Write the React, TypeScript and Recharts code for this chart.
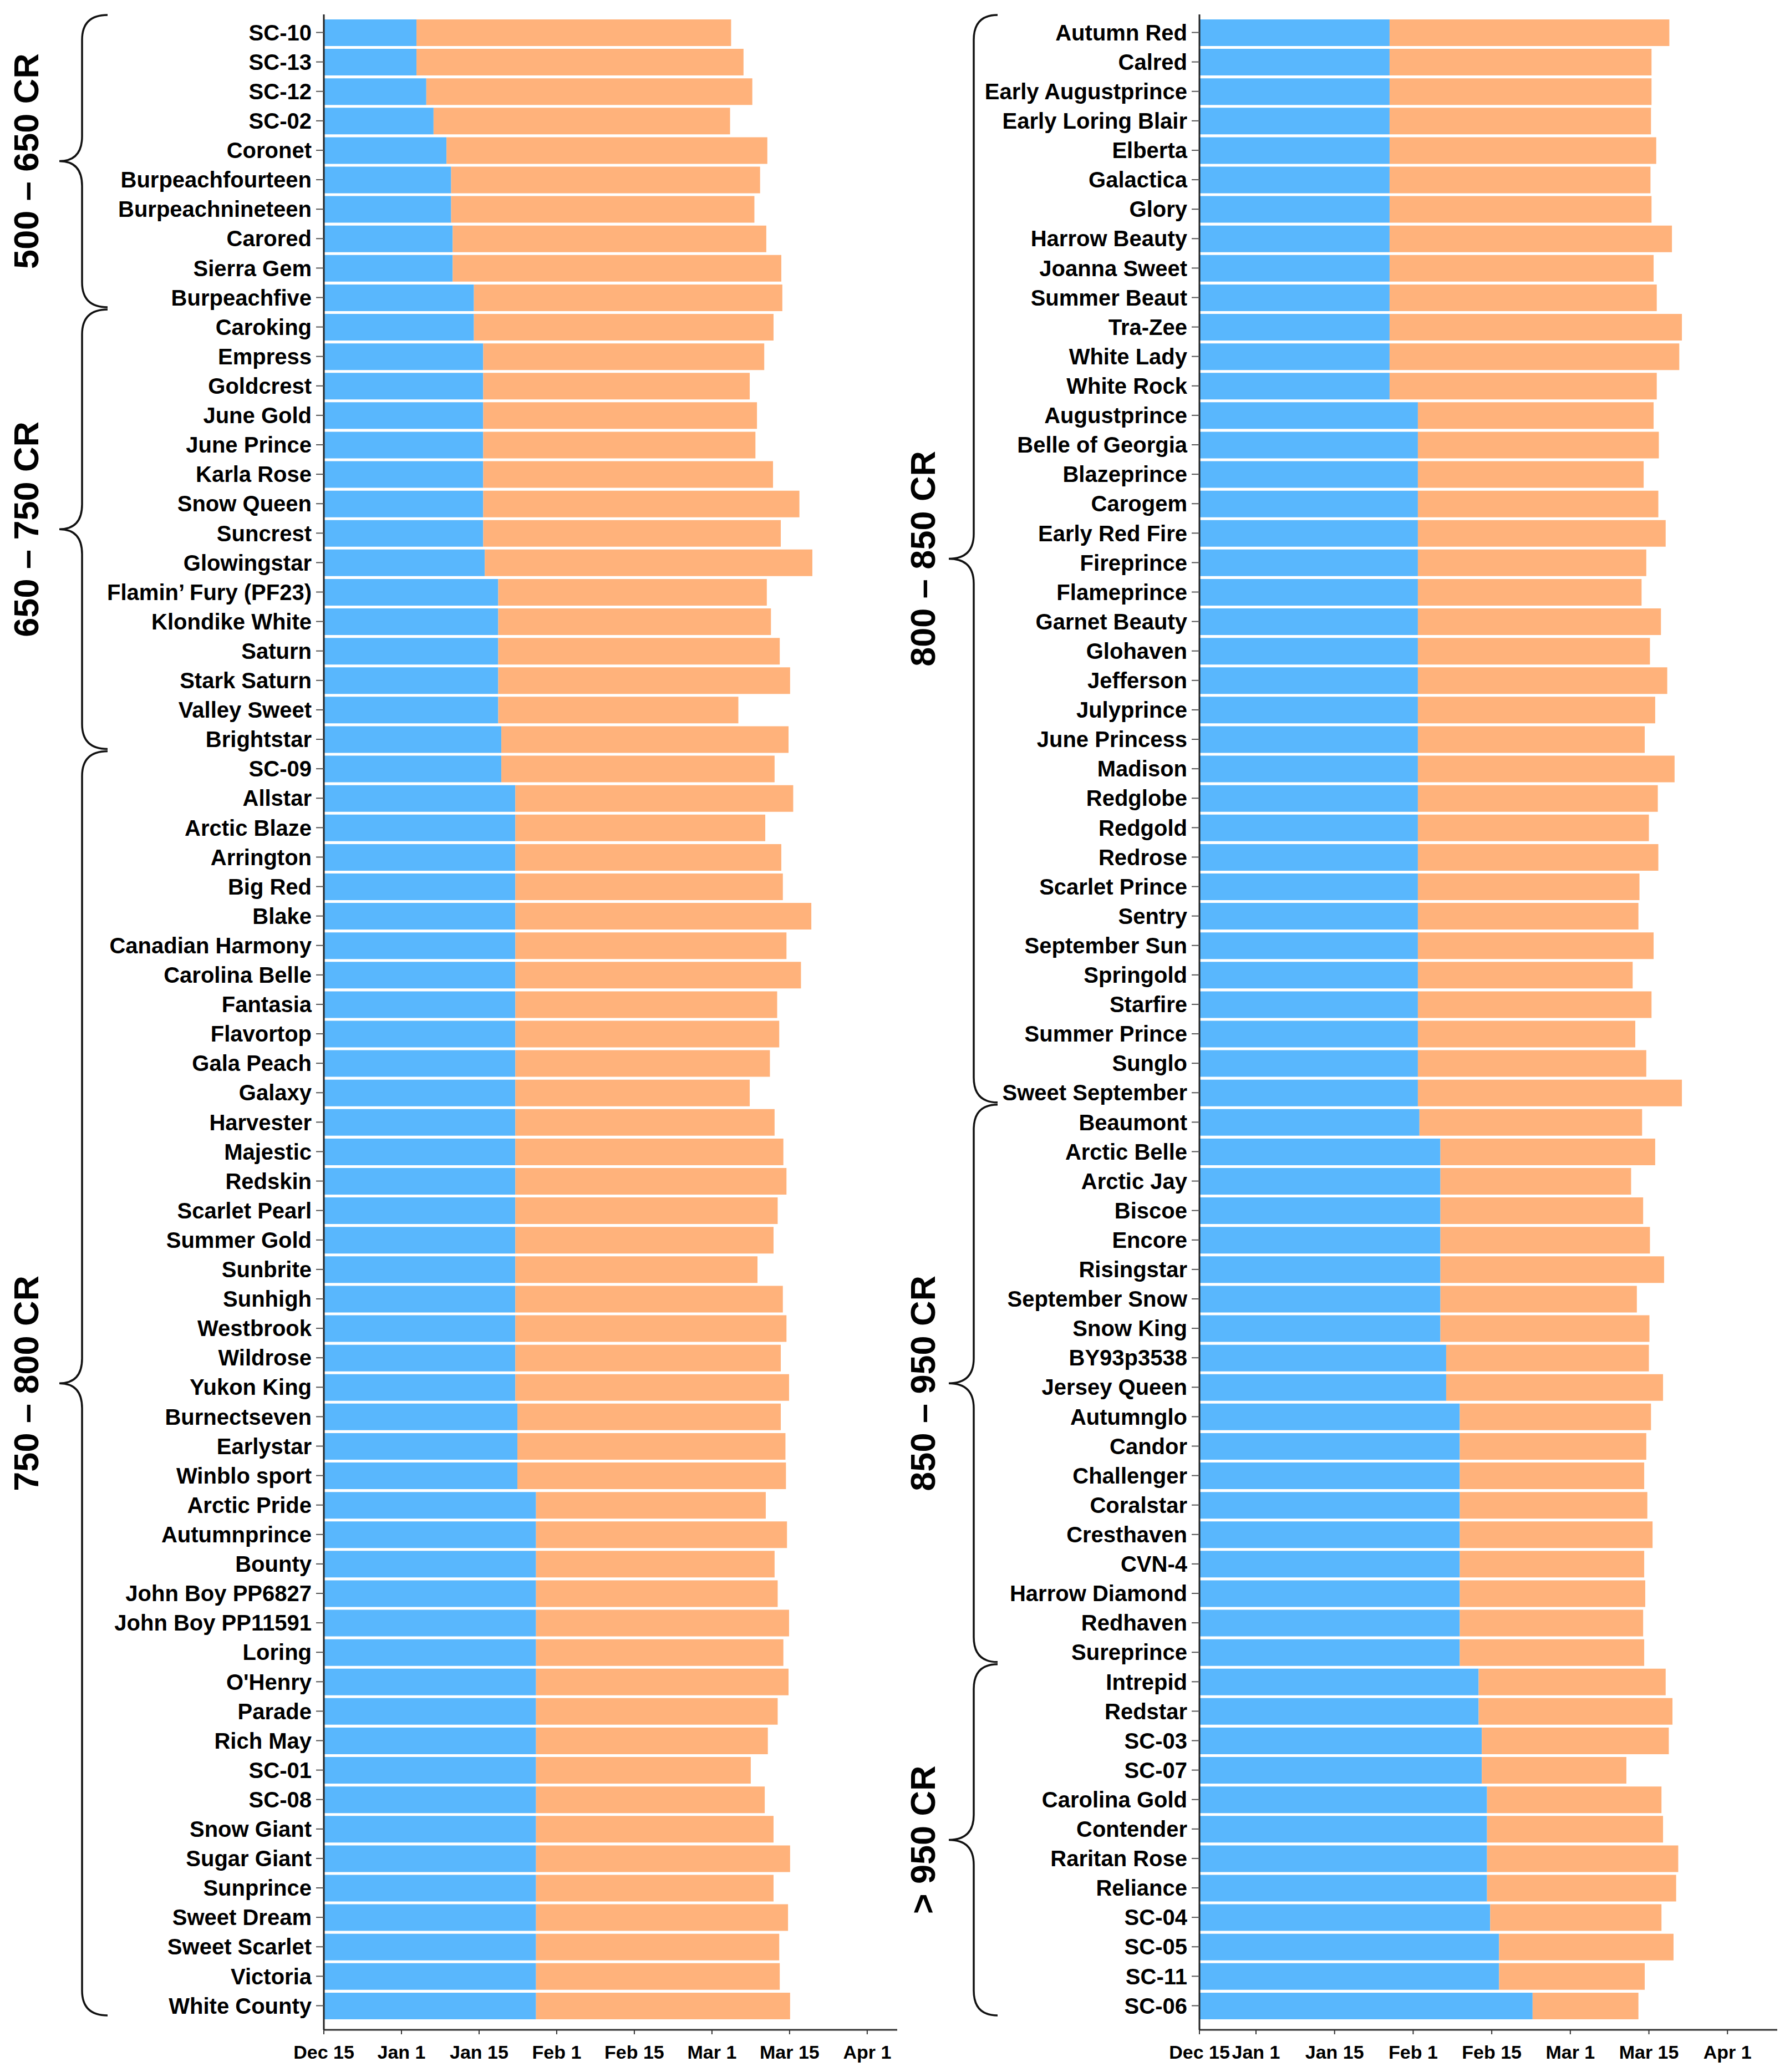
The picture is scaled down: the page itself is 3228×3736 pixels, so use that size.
import React from 'react';
import { BarChart, Bar, XAxis, YAxis, ReferenceArea } from 'recharts';

// bloom -> harvest windows
const BLUE = '#59B7FD';
const ORANGE = '#FFB27B';

const tickLabels = ['Dec 15', 'Jan 1', 'Jan 15', 'Feb 1', 'Feb 15', 'Mar 1', 'Mar 15', 'Apr 1'];
const leftTicks = [0, 15, 30, 45, 60, 75, 90, 105];
const rightTicks = [4.2, 15, 30, 45, 60, 75, 90, 105];

const leftNames = [
  'SC-10', 'SC-13', 'SC-12', 'SC-02', 'Coronet', 'Burpeachfourteen', 'Burpeachnineteen', 'Carored', 'Sierra Gem', 'Burpeachfive',
  'Caroking', 'Empress', 'Goldcrest', 'June Gold', 'June Prince', 'Karla Rose', 'Snow Queen', 'Suncrest', 'Glowingstar',
  'Flamin\u2019 Fury (PF23)', 'Klondike White', 'Saturn', 'Stark Saturn', 'Valley Sweet', 'Brightstar',
  'SC-09', 'Allstar', 'Arctic Blaze', 'Arrington', 'Big Red', 'Blake', 'Canadian Harmony', 'Carolina Belle', 'Fantasia',
  'Flavortop', 'Gala Peach', 'Galaxy', 'Harvester', 'Majestic', 'Redskin', 'Scarlet Pearl', 'Summer Gold', 'Sunbrite',
  'Sunhigh', 'Westbrook', 'Wildrose', 'Yukon King', 'Burnectseven', 'Earlystar', 'Winblo sport', 'Arctic Pride',
  'Autumnprince', 'Bounty', 'John Boy PP6827', 'John Boy PP11591', 'Loring', "O'Henry", 'Parade', 'Rich May', 'SC-01',
  'SC-08', 'Snow Giant', 'Sugar Giant', 'Sunprince', 'Sweet Dream', 'Sweet Scarlet', 'Victoria', 'White County',
];
const leftBloom = [
  17.9, 17.9, 19.8, 21.2, 23.7, 24.6, 24.6, 24.9, 24.9, 29.0,
  29.0, 30.8, 30.8, 30.8, 30.8, 30.8, 30.8, 30.8, 31.1,
  33.7, 33.7, 33.7, 33.7, 33.7, 34.3,
  34.3, 37.0, 37.0, 37.0, 37.0, 37.0, 37.0, 37.0, 37.0,
  37.0, 37.0, 37.0, 37.0, 37.0, 37.0, 37.0, 37.0, 37.0,
  37.0, 37.0, 37.0, 37.0, 37.4, 37.4, 37.4, 41.0,
  41.0, 41.0, 41.0, 41.0, 41.0, 41.0, 41.0, 41.0, 41.0,
  41.0, 41.0, 41.0, 41.0, 41.0, 41.0, 41.0, 41.0,
];
const leftHarvest = [
  78.7, 81.1, 82.8, 78.5, 85.7, 84.3, 83.2, 85.5, 88.4, 88.6,
  86.9, 85.1, 82.3, 83.7, 83.4, 86.8, 91.9, 88.3, 94.4,
  85.6, 86.4, 88.1, 90.1, 80.1, 89.8,
  87.1, 90.7, 85.3, 88.4, 88.7, 94.2, 89.4, 92.2, 87.6,
  88.0, 86.2, 82.3, 87.1, 88.8, 89.4, 87.7, 86.9, 83.8,
  88.7, 89.4, 88.3, 89.9, 88.3, 89.2, 89.3, 85.4,
  89.5, 87.1, 87.7, 89.9, 88.8, 89.8, 87.7, 85.8, 82.5,
  85.2, 86.9, 90.1, 86.9, 89.7, 88.0, 88.1, 90.1,
];
const leftGroupLabels = ['500 \u2013 650 CR', '650 \u2013 750 CR', '750 \u2013 800 CR'];
const leftGroupSizes = [10, 15, 43];

const rightNames = [
  'Autumn Red', 'Calred', 'Early Augustprince', 'Early Loring Blair', 'Elberta', 'Galactica', 'Glory', 'Harrow Beauty',
  'Joanna Sweet', 'Summer Beaut', 'Tra-Zee', 'White Lady', 'White Rock', 'Augustprince', 'Belle of Georgia', 'Blazeprince',
  'Carogem', 'Early Red Fire', 'Fireprince', 'Flameprince', 'Garnet Beauty', 'Glohaven', 'Jefferson', 'Julyprince',
  'June Princess', 'Madison', 'Redglobe', 'Redgold', 'Redrose', 'Scarlet Prince', 'Sentry', 'September Sun', 'Springold',
  'Starfire', 'Summer Prince', 'Sunglo', 'Sweet September',
  'Beaumont', 'Arctic Belle', 'Arctic Jay', 'Biscoe', 'Encore', 'Risingstar', 'September Snow', 'Snow King', 'BY93p3538',
  'Jersey Queen', 'Autumnglo', 'Candor', 'Challenger', 'Coralstar', 'Cresthaven', 'CVN-4', 'Harrow Diamond', 'Redhaven',
  'Sureprince',
  'Intrepid', 'Redstar', 'SC-03', 'SC-07', 'Carolina Gold', 'Contender', 'Raritan Rose', 'Reliance', 'SC-04', 'SC-05',
  'SC-11', 'SC-06',
];
const rightBloom = [
  40.5, 40.5, 40.5, 40.5, 40.5, 40.5, 40.5, 40.5,
  40.5, 40.5, 40.5, 40.5, 40.5, 45.9, 45.9, 45.9,
  45.9, 45.9, 45.9, 45.9, 45.9, 45.9, 45.9, 45.9,
  45.9, 45.9, 45.9, 45.9, 45.9, 45.9, 45.9, 45.9, 45.9,
  45.9, 45.9, 45.9, 45.9,
  46.2, 50.2, 50.2, 50.2, 50.2, 50.2, 50.2, 50.2, 51.3,
  51.3, 53.9, 53.9, 53.9, 53.9, 53.9, 53.9, 53.9, 53.9,
  53.9,
  57.5, 57.5, 58.1, 58.1, 59.1, 59.1, 59.1, 59.1, 59.7, 61.4,
  61.4, 67.8,
];
const rightHarvest = [
  93.9, 90.5, 90.5, 90.4, 91.4, 90.3, 90.5, 94.4,
  90.9, 91.5, 96.3, 95.8, 91.5, 90.9, 91.9, 89.0,
  91.8, 93.2, 89.5, 88.6, 92.3, 90.2, 93.5, 91.2,
  89.2, 94.9, 91.7, 90.0, 91.8, 88.2, 88.0, 90.9, 86.9,
  90.5, 87.4, 89.5, 96.3,
  88.7, 91.2, 86.6, 88.9, 90.2, 92.9, 87.7, 90.1, 90.0,
  92.7, 90.4, 89.5, 89.1, 89.7, 90.7, 89.1, 89.3, 88.9,
  89.1,
  93.2, 94.5, 93.8, 85.7, 92.4, 92.7, 95.6, 95.2, 92.4, 94.7,
  89.2, 88.0,
];
const rightGroupLabels = ['800 \u2013 850 CR', '850 \u2013 950 CR', '> 950 CR'];
const rightGroupSizes = [37, 19, 12];

type BraceOffsets = { tip: number; mid: number; end: number; label: number };

const makeBrace = (label: string, off: BraceOffsets) => (props: any) => {
  const { x, y, height } = props;
  const top = y - 5;
  const bottom = y + height - 9;
  const c = (top + bottom) / 2;
  const r = 45;
  const xe = x - off.end;
  const xm = x - off.mid;
  const xt = x - off.tip;
  const d =
    `M${xe},${top} Q${xm},${top} ${xm},${top + r} L${xm},${c - r} ` +
    `Q${xm},${c} ${xt},${c} Q${xm},${c} ${xm},${c + r} ` +
    `L${xm},${bottom - r} Q${xm},${bottom} ${xe},${bottom}`;
  const lx = x - off.label;
  return (
    <g>
      <path d={d} fill="none" stroke="#111" strokeWidth={3.5} />
      <text
        x={lx}
        y={c}
        dy="0.36em"
        transform={`rotate(-90 ${lx} ${c})`}
        textAnchor="middle"
        fontSize={63}
        fontWeight={700}
        fill="#000"
      >
        {label}
      </text>
    </g>
  );
};

type PanelProps = {
  names: string[];
  bloom: number[];
  harvest: number[];
  groupLabels: string[];
  groupSizes: number[];
  ticks: number[];
  domain: [number, number];
  width: number;
  yAxisWidth: number;
  marginRight: number;
  brace: BraceOffsets;
};

const Panel = ({ names, bloom, harvest, groupLabels, groupSizes, ticks, domain, width, yAxisWidth, marginRight, brace }: PanelProps) => {
  const rows = names.map((name, i) => ({
    name,
    bloom: bloom[i],
    harvest: Math.round((harvest[i] - bloom[i]) * 100) / 100,
  }));

  let start = 0;
  const groups = groupSizes.map((size, i) => {
    const g = { label: groupLabels[i], first: names[start], last: names[start + size - 1] };
    start += size;
    return g;
  });

  return (
    <BarChart
      layout="vertical"
      width={width}
      height={3736}
      data={rows}
      margin={{ top: 26, right: marginRight, bottom: 16, left: 0 }}
      barSize={48}
    >
      <XAxis
        type="number"
        domain={domain}
        ticks={ticks}
        allowDataOverflow
        interval={0}
        height={60}
        tickSize={8}
        tickMargin={20}
        tickFormatter={(v: number) => tickLabels[ticks.indexOf(v)]}
        axisLine={{ stroke: '#333', strokeWidth: 3 }}
        tickLine={{ stroke: '#333', strokeWidth: 2 }}
        tick={{ fontSize: 34, fontWeight: 700, fill: '#000' }}
      />
      <YAxis
        type="category"
        dataKey="name"
        width={yAxisWidth}
        interval={0}
        tickSize={14}
        tickMargin={8}
        padding={{ top: 6, bottom: 17 }}
        axisLine={{ stroke: '#222', strokeWidth: 3 }}
        tickLine={{ stroke: '#555', strokeWidth: 2 }}
        tick={{ fontSize: 40, fontWeight: 700, fill: '#000' }}
      />
      <Bar dataKey="bloom" stackId="w" fill={BLUE} isAnimationActive={false} />
      <Bar dataKey="harvest" stackId="w" fill={ORANGE} isAnimationActive={false} />
      {groups.map((g) => (
        <ReferenceArea
          key={g.label}
          y1={g.first}
          y2={g.last}
          ifOverflow="visible"
          shape={makeBrace(g.label, brace)}
        />
      ))}
    </BarChart>
  );
};

export default function App() {
  return (
    <div
      style={{
        position: 'absolute',
        left: 0,
        top: 0,
        width: 3228,
        height: 3736,
        background: '#fff',
        fontFamily: "'Liberation Sans', Arial, sans-serif",
      }}
    >
      <div style={{ position: 'absolute', left: 0, top: 0 }}>
        <Panel
          names={leftNames}
          bloom={leftBloom}
          harvest={leftHarvest}
          groupLabels={leftGroupLabels}
          groupSizes={leftGroupSizes}
          ticks={leftTicks}
          domain={[0, 110.8]}
          width={1620}
          yAxisWidth={584}
          marginRight={2}
          brace={{ tip: 477, mid: 436, end: 390, label: 538 }}
        />
      </div>
      <div style={{ position: 'absolute', left: 1620, top: 0 }}>
        <Panel
          names={rightNames}
          bloom={rightBloom}
          harvest={rightHarvest}
          groupLabels={rightGroupLabels}
          groupSizes={rightGroupSizes}
          ticks={rightTicks}
          domain={[4.2, 114.5]}
          width={1608}
          yAxisWidth={543}
          marginRight={23}
          brace={{ tip: 452, mid: 407, end: 364, label: 500 }}
        />
      </div>
    </div>
  );
}
